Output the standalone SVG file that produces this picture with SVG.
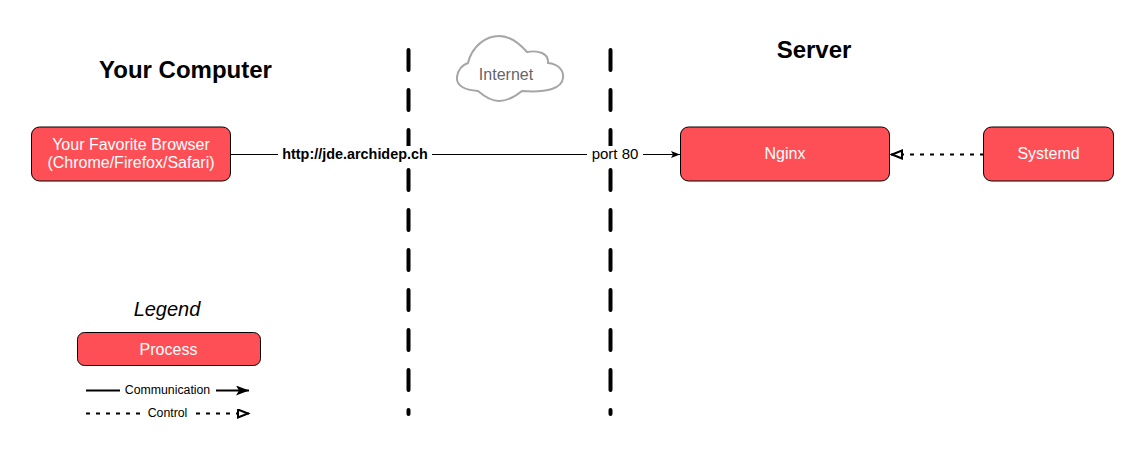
<svg xmlns="http://www.w3.org/2000/svg" width="1146" height="457" viewBox="0 0 1146 457">
<style>
text{font-family:"Liberation Sans",Arial,sans-serif;text-anchor:middle}
.box{fill:#ff4f56;stroke:#000;stroke-width:1}
.nt{fill:#fff;font-size:16px}
.h{font-weight:bold;font-size:24px;fill:#000}
.sep{stroke:#000;stroke-width:4;stroke-linecap:round;stroke-dasharray:20 20;fill:none}
.c{stroke:#000;fill:none;stroke-width:1}
.d{stroke:#000;fill:none;stroke-width:2;stroke-dasharray:4 6}
.s{stroke:#000;fill:none;stroke-width:2}
.lbl{font-size:15px;fill:#000}
.leg{font-size:12.300px;fill:#000}
</style>
<defs>
<marker id="fill" markerUnits="userSpaceOnUse" markerWidth="10" markerHeight="8" refX="9" refY="3.500" orient="auto"><path d="M0 0L9 3.500L0 7L2 3.500Z" fill="#000"/></marker>
<marker id="big" markerUnits="userSpaceOnUse" markerWidth="14" markerHeight="12" refX="13" refY="5" orient="auto"><path d="M0 0L13 5L0 10L3 5Z" fill="#000"/></marker>
<marker id="open" markerUnits="userSpaceOnUse" markerWidth="14" markerHeight="12" refX="12" refY="5" orient="auto"><path d="M1 1L11 5L1 9Z" fill="#fff" stroke="#000" stroke-width="2"/></marker>
</defs>
<g id="separators">
<path class="sep" d="M408.500 50V414"/>
<path class="sep" d="M610.500 50V414"/>
</g>
<g id="heading-computer"><text class="h" x="185.500" y="78">Your Computer</text></g>
<g id="heading-server"><text class="h" x="814" y="58">Server</text></g>
<g id="internet">
<path d="M468 63C472 46 486 36 499 36C511 36 520 44 527 52C538 50 549 53 548 63C558 64 564 70 563 78C562 88 548 93 522 91C512 99 506 101 499 101C491 101 485 97 478 91C465 90 456 86 457 77C458 70 462 65 468 63Z" fill="#fff" stroke="#a6a6a6" stroke-width="2"/>
<text x="506" y="80" font-size="16px" fill="#666">Internet</text>
</g>
<g id="connectors">
<path class="c" d="M231 154.500H680" marker-end="url(#fill)"/>
<path class="d" d="M984 154.500H891" marker-end="url(#open)"/>
</g>
<g id="connector-labels">
<rect x="278" y="146" width="154" height="17" fill="#fff"/>
<text x="355" y="159" font-size="14.400px" font-weight="bold" fill="#000">http://jde.archidep.ch</text>
<rect x="587" y="146" width="56" height="17" fill="#fff"/>
<text x="615" y="159" class="lbl">port 80</text>
</g>
<g id="browser">
<rect class="box" x="31.500" y="127" width="199" height="54" rx="8"/>
<text class="nt" x="131" y="150">Your Favorite Browser</text>
<text class="nt" x="131" y="168">(Chrome/Firefox/Safari)</text>
</g>
<g id="nginx">
<rect class="box" x="680.500" y="127" width="209" height="54" rx="8"/>
<text class="nt" x="785" y="159">Nginx</text>
</g>
<g id="systemd">
<rect class="box" x="983.500" y="127" width="130" height="54" rx="8"/>
<text class="nt" x="1048.500" y="159">Systemd</text>
</g>
<g id="legend-title"><text x="167" y="316" font-size="20px" font-style="italic" fill="#000">Legend</text></g>
<g id="legend-process">
<rect class="box" x="77.500" y="332.500" width="183" height="33" rx="7"/>
<text class="nt" x="168.500" y="355">Process</text>
</g>
<g id="legend-lines">
<path class="s" d="M86 390.500H120"/>
<path class="s" d="M216 390.500H249" marker-end="url(#big)"/>
<text class="leg" x="167.500" y="394">Communication</text>
<path class="d" d="M86 413.500H141"/>
<path class="d" d="M196 413.500H249" marker-end="url(#open)"/>
<text class="leg" x="167.500" y="417">Control</text>
</g>
</svg>
